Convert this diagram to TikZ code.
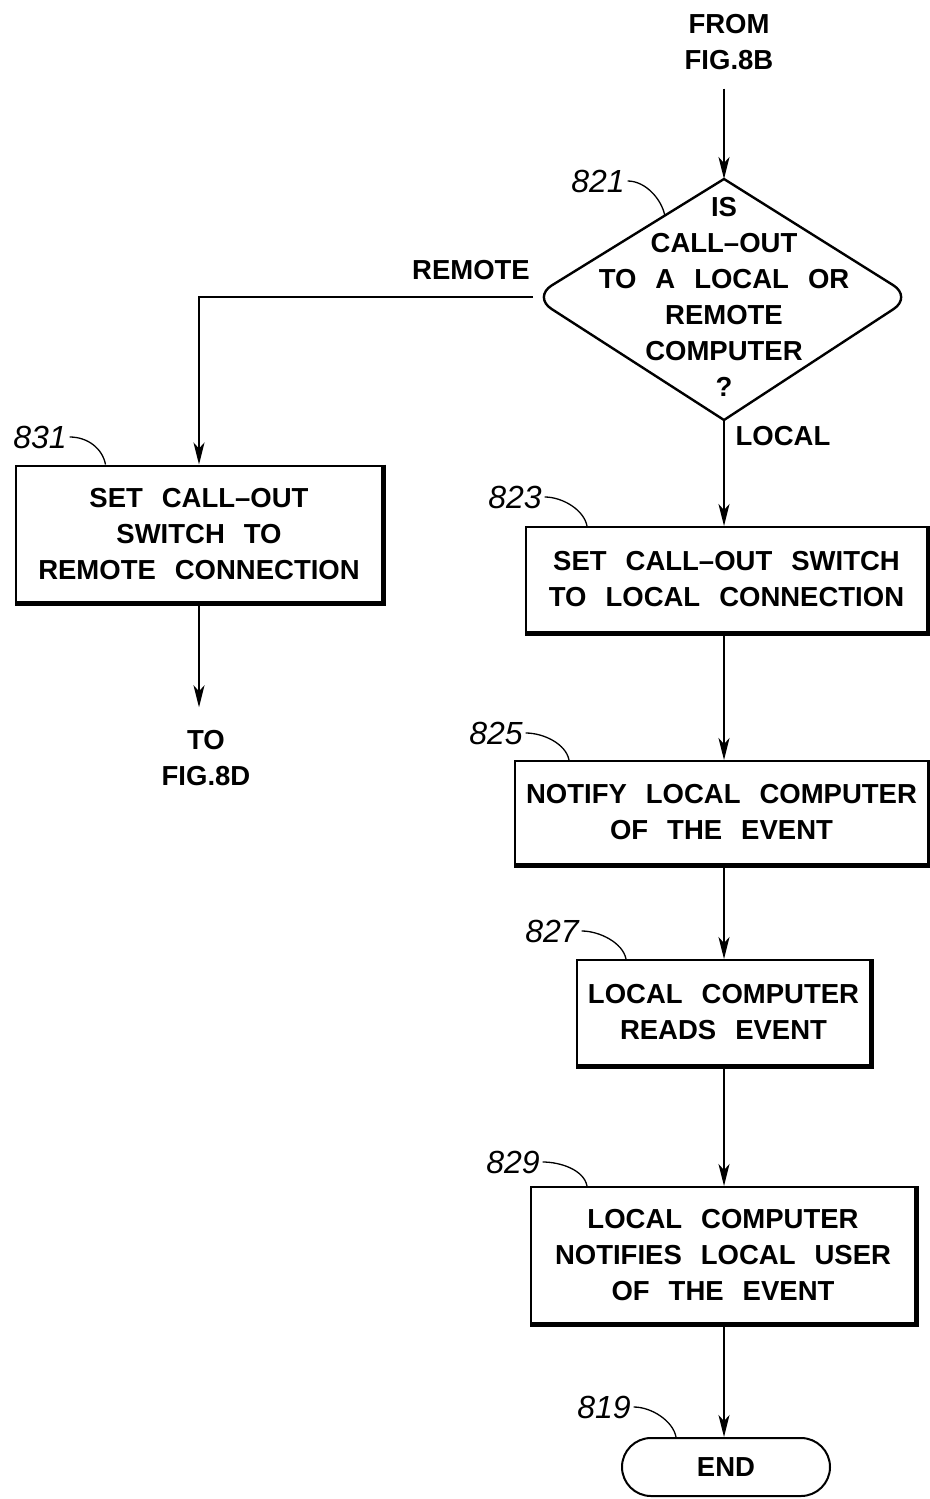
\documentclass[tikz,border=0pt]{standalone}
\usepackage{fontspec}
\setmainfont{Liberation Sans}
\usetikzlibrary{arrows.meta,calc}
\newcommand{\flowfont}{\fontsize{27.5}{36}\selectfont\bfseries\spaceskip 19pt\relax}

\begin{document}
\begin{tikzpicture}[x=1pt, y=-1pt, line width=2pt]
  \tikzstyle{stepbox}=[draw, rectangle, align=center, inner sep=0pt, font=\flowfont]
  \tikzstyle{plain}=[align=center, inner sep=0pt, font=\flowfont]
  \tikzstyle{refnum}=[inner sep=2pt, font=\fontsize{32}{32}\selectfont\itshape]
  \tikzstyle{flow}=[-{Stealth[length=22pt, width=11pt, inset=6pt]}]
  \tikzstyle{leader}=[line width=1.3pt]
  \useasboundingbox (0,0) rectangle (929,1499);

  \node[plain] (from8b) at (729,42) {FROM\\FIG.8B};
  \coordinate (dec-n) at (724,179);
  \coordinate (dec-e) at (912,297);
  \coordinate (dec-s) at (724,420);
  \coordinate (dec-w) at (533,297);
  \draw[line width=2.4pt] (dec-n) [rounded corners=22pt] -- (dec-e) [sharp corners] -- (dec-s)
    [rounded corners=22pt] -- (dec-w) [sharp corners] -- cycle;
  \node[plain] (dtext) at (724,297) {IS\\CALL--OUT\\TO A LOCAL OR\\REMOTE\\COMPUTER\\?};
  \node[plain] (remote) at (471,270) {REMOTE};
  \node[plain] (local) at (783,436) {LOCAL};

  \node[stepbox, minimum width=367pt, minimum height=137pt] (box831) at (199,534)
    {SET CALL--OUT\\SWITCH TO\\REMOTE CONNECTION};
  \node[plain] (to8d) at (206,758) {TO\\FIG.8D};
  \node[stepbox, minimum width=401pt, minimum height=105pt] (box823) at (726.5,579.5)
    {SET CALL--OUT SWITCH\\TO LOCAL CONNECTION};
  \node[stepbox, minimum width=413pt, minimum height=103pt] (box825) at (721.5,812.5)
    {NOTIFY LOCAL COMPUTER\\OF THE EVENT};
  \node[stepbox, minimum width=293pt, minimum height=105pt] (box827) at (723.5,1012.5)
    {LOCAL COMPUTER\\READS EVENT};
  \node[stepbox, minimum width=384pt, minimum height=136pt] (box829) at (723,1255)
    {LOCAL COMPUTER\\NOTIFIES LOCAL USER\\OF THE EVENT};
  \node[stepbox, rounded corners=29pt, minimum width=208pt, minimum height=58pt]
    (term819) at (726,1467) {END};

  \foreach \b in {box831, box823, box825, box827, box829} {
    \draw[line width=5pt] (\b.north east) -- (\b.south east) -- (\b.south west);
  }

  \draw[flow, shorten <=18pt] (from8b.south -| dec-n) -- (dec-n);
  \draw[flow] (dec-w) -| (box831.north);
  \draw[flow] (dec-s) -- (box823.north -| dec-s);
  \draw[flow, shorten >=22pt] (box831.south) -- (to8d.north -| box831.south);
  \draw[flow] (box823.south -| dec-s) -- (box825.north -| dec-s);
  \draw[flow] (box825.south -| dec-s) -- (box827.north -| dec-s);
  \draw[flow] (box827.south -| dec-s) -- (box829.north -| dec-s);
  \draw[flow] (box829.south -| dec-s) -- (term819.north -| dec-s);

  \node[refnum] (lab821) at (598,181) {821};
  \node[refnum] (lab831) at (40,437) {831};
  \node[refnum] (lab823) at (515,497) {823};
  \node[refnum] (lab825) at (496,733) {825};
  \node[refnum] (lab827) at (552,931) {827};
  \node[refnum] (lab829) at (513,1162) {829};
  \node[refnum] (lab819) at (604,1407) {819};
  \draw[leader] (lab821.east) .. controls +(18,0) and +(-3,-16) .. ($(dec-w)!0.69!(dec-n)$);
  \draw[leader] (lab831.east) .. controls +(18,0) and +(-3,-16) .. ($(box831.north west)+(91,0)$);
  \draw[leader] (lab823.east) .. controls +(18,0) and +(-3,-16) .. ($(box823.north west)+(62,0)$);
  \draw[leader] (lab825.east) .. controls +(18,0) and +(-3,-16) .. ($(box825.north west)+(55,0)$);
  \draw[leader] (lab827.east) .. controls +(18,0) and +(-3,-16) .. ($(box827.north west)+(50,0)$);
  \draw[leader] (lab829.east) .. controls +(18,0) and +(-3,-16) .. ($(box829.north west)+(57,0)$);
  \draw[leader] (lab819.east) .. controls +(18,0) and +(-3,-16) .. ($(term819.north west)+(55,0)$);
\end{tikzpicture}
\end{document}
